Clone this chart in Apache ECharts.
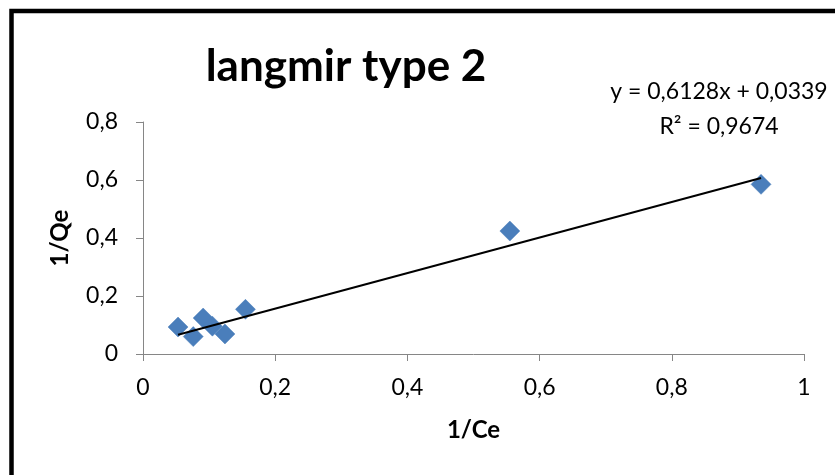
<!DOCTYPE html>
<html>
<head>
<meta charset="utf-8">
<script src="https://cdn.jsdelivr.net/npm/echarts@6/dist/echarts.min.js"></script>
<style>
html,body{margin:0;padding:0;background:#fff;}
#chart{width:835px;height:475px;}
</style>
</head>
<body>
<div id="chart"></div>
<script>
// Data
var invCe = [0.053, 0.076, 0.091, 0.105, 0.124, 0.155, 0.555, 0.935];
var invQe = [0.093, 0.060, 0.124, 0.096, 0.069, 0.154, 0.424, 0.585];
var xTicks = ['0', '0,2', '0,4', '0,6', '0,8', '1'];
var yTicks = ['0', '0,2', '0,4', '0,6', '0,8'];
var slope = 0.6128;
var intercept = 0.0339;
var eqText = 'y = 0,6128x + 0,0339';
var r2Text = 'R\u00b2 = 0,9674';
var titleText = 'langmir type 2';

var points = invCe.map(function (x, i) { return [x, invQe[i]]; });
var xMin = Math.min.apply(null, invCe), xMax = Math.max.apply(null, invCe);
var trend = [[xMin, slope * xMin + intercept], [xMax, slope * xMax + intercept]];

var FONT = 'Lato, "Open Sans", sans-serif';
var chart = echarts.init(document.getElementById('chart'), null, {renderer: 'canvas'});
chart.setOption({
  animation: false,
  backgroundColor: '#fff',
  grid: {left: 143, right: 31, top: 122, bottom: 121, containLabel: false},
  xAxis: {
    type: 'value', min: 0, max: 1, interval: 0.2,
    name: '1/Ce', nameLocation: 'middle', nameGap: 64,
    nameTextStyle: {fontFamily: FONT, fontWeight: 'bold', fontSize: 24, color: '#000'},
    axisLine: {show: true, onZero: false, lineStyle: {color: '#868686', width: 1}},
    axisTick: {show: true, inside: false, length: 7, lineStyle: {color: '#868686'}},
    splitLine: {show: false},
    axisLabel: {
      margin: 22, fontFamily: FONT, fontSize: 23, color: '#000',
      formatter: function (v) { return xTicks[Math.round(v / 0.2)]; }
    }
  },
  yAxis: {
    type: 'value', min: 0, max: 0.8, interval: 0.2,
    name: '1/Qe', nameLocation: 'middle', nameGap: 71, nameRotate: 90,
    nameTextStyle: {fontFamily: FONT, fontWeight: 'bold', fontSize: 24, color: '#000'},
    axisLine: {show: true, onZero: false, lineStyle: {color: '#868686', width: 1}},
    axisTick: {show: true, inside: false, length: 7, lineStyle: {color: '#868686'}},
    splitLine: {show: false},
    axisLabel: {
      margin: 25, fontFamily: FONT, fontSize: 23, color: '#000',
      formatter: function (v) { return yTicks[Math.round(v / 0.2)]; }
    }
  },
  series: [
    {
      type: 'scatter', data: points, symbol: 'diamond', symbolSize: 20,
      itemStyle: {color: '#4a7ebb', borderColor: '#4a7ebb', borderWidth: 0.5, opacity: 1},
      z: 2
    },
    {
      type: 'line', data: trend, symbol: 'none', silent: true,
      lineStyle: {color: '#000', width: 2}, z: 3
    }
  ],
  graphic: [
    {
      type: 'rect', silent: true, z: 100,
      shape: {x: 11.5, y: 11, width: 900, height: 600},
      style: {fill: 'none', stroke: '#000', lineWidth: 4.5}
    },
    {
      type: 'text', silent: true, x: 346, y: 67,
      style: {text: titleText, fontFamily: FONT, fontWeight: 'bold', fontSize: 44,
        fill: '#000', textAlign: 'center', textVerticalAlign: 'middle'}
    },
    {
      type: 'text', silent: true, x: 719, y: 109,
      style: {text: eqText + '\n' + r2Text, fontFamily: FONT, fontSize: 23, lineHeight: 35,
        fill: '#000', textAlign: 'center', textVerticalAlign: 'middle'}
    }
  ]
});
</script>
</body>
</html>
